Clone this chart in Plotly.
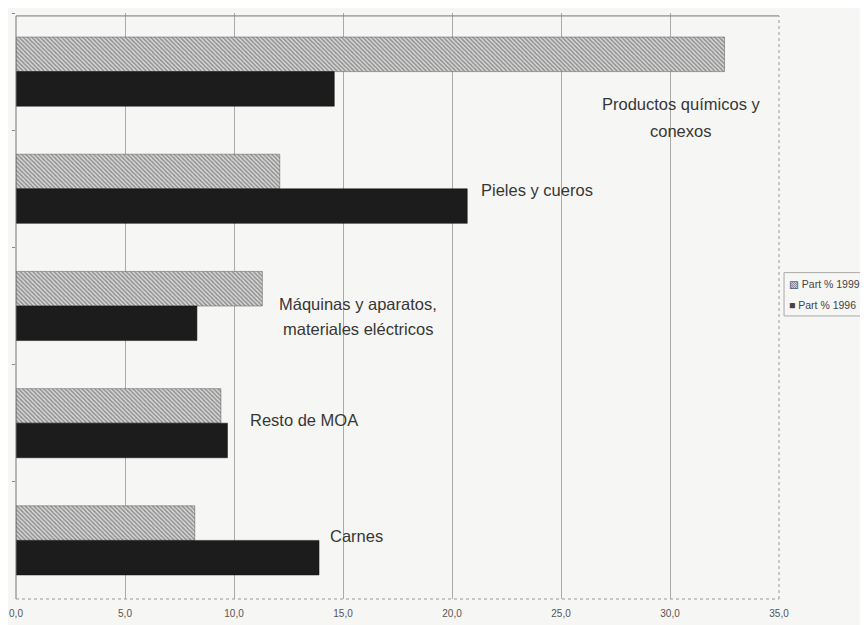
import plotly.graph_objects as go

categorias = ["Productos químicos y conexos", "Pieles y cueros",
              "Máquinas y aparatos, materiales eléctricos", "Resto de MOA", "Carnes"]
part_1999 = [32.5, 12.1, 11.3, 9.4, 8.2]
part_1996 = [14.6, 20.7, 8.3, 9.7, 13.9]
ticks = [0, 5, 10, 15, 20, 25, 30, 35]

# label text split in lines, where it sits (x in data units, yshift px per line)
lineas = [["Productos químicos y", "conexos"], ["Pieles y cueros"],
          ["Máquinas y aparatos,", "materiales eléctricos"], ["Resto de MOA"], ["Carnes"]]
label_x = [30.5, 23.9, 15.7, 13.2, 15.6]
label_dy = [[-32, -59], [-1], [2, -23], [3], [4]]

fig = go.Figure()
fig.add_trace(go.Bar(
    y=categorias, x=part_1999, orientation="h", name="Part % 1999",
    marker=dict(color="#dcdcdc", line=dict(color="#555555", width=0.5),
                pattern=dict(shape="\\", fgcolor="#484848", size=3, solidity=0.55)),
))
fig.add_trace(go.Bar(
    y=categorias, x=part_1996, orientation="h", name="Part % 1996",
    marker=dict(color="#1c1c1c", line=dict(color="#111111", width=0.5)),
))

for cat, ls, lx, dys in zip(categorias, lineas, label_x, label_dy):
    for txt, dy in zip(ls, dys):
        fig.add_annotation(x=lx, y=cat, text=txt, showarrow=False, yshift=dy,
                           font=dict(size=16.5, color="#363636"), align="center")

# frame: solid top/left, dotted right/bottom
fig.add_shape(type="line", xref="paper", yref="paper", x0=0, x1=1, y0=0.995, y1=0.995,
              line=dict(color="#777777", width=1))
fig.add_shape(type="line", xref="paper", yref="paper", x0=0, x1=0, y0=0, y1=0.995,
              line=dict(color="#777777", width=1))
fig.add_shape(type="line", xref="paper", yref="paper", x0=1, x1=1, y0=0, y1=0.995,
              line=dict(color="#999999", width=1, dash="dot"))
fig.add_shape(type="line", xref="paper", yref="paper", x0=0, x1=1, y0=0, y1=0,
              line=dict(color="#999999", width=1, dash="dot"))

# small legend box on the right
fig.add_shape(type="rect", xref="paper", yref="paper", x0=1.0066, x1=1.116, y0=0.483, y1=0.557,
              line=dict(color="#aaaaaa", width=1), fillcolor="#f6f6f4")
fig.add_annotation(xref="paper", yref="paper", x=1.0105, y=0.538, xanchor="left",
                   text="▧ Part % 1999", showarrow=False,
                   font=dict(size=10.5, color="#444444"))
fig.add_annotation(xref="paper", yref="paper", x=1.0105, y=0.501, xanchor="left",
                   text="■ Part % 1996", showarrow=False,
                   font=dict(size=10.5, color="#444444"))

fig.update_layout(
    width=860, height=617,
    margin=dict(l=8, r=89, t=5, b=26, autoexpand=False),
    paper_bgcolor="#f6f6f4", plot_bgcolor="#f6f6f4",
    barmode="group", bargap=0.41, bargroupgap=0.0,
    separators=",.",
    font=dict(family="Liberation Sans, DejaVu Sans, Arial, sans-serif", color="#444444"),
    showlegend=False,
)
fig.update_xaxes(range=[0, 35], tickvals=ticks, tickformat=".1f",
                 showgrid=True, gridcolor="#aaaaaa", gridwidth=1,
                 zeroline=False, showline=False, automargin=False,
                 tickfont=dict(size=10, color="#555555"), ticks="", ticklen=0,
                 ticklabelstandoff=7)
fig.update_yaxes(categoryorder="array", categoryarray=categorias,
                 range=[len(categorias) - 0.5, -0.5],
                 showticklabels=False, showgrid=False, zeroline=False, automargin=False,
                 ticks="outside", ticklen=3, tickcolor="#888888", tickson="boundaries")

fig.write_html("out.html")
